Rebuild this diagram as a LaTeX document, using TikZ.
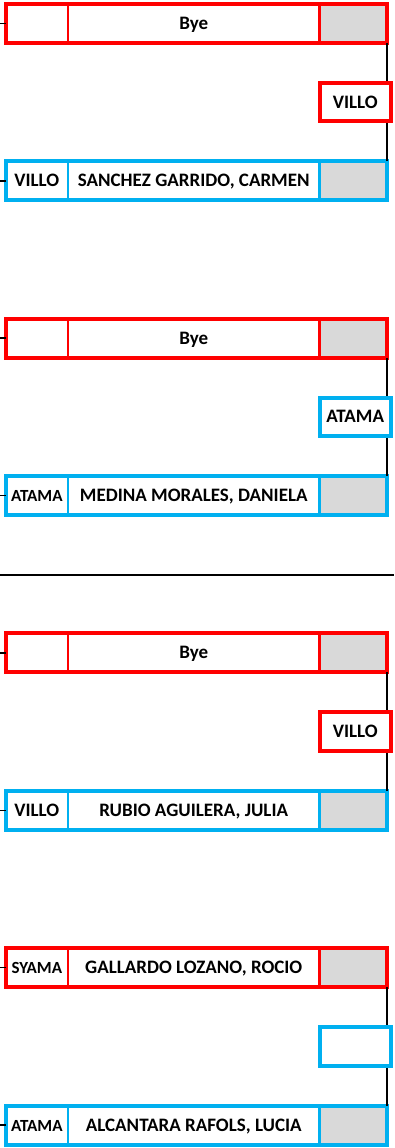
\documentclass[tikz,border=0pt]{standalone}
\usepackage{fontspec}
\setmainfont{Carlito}
\usetikzlibrary{positioning}
\definecolor{drawred}{HTML}{FF0000}
\definecolor{drawblue}{HTML}{00B0F0}
\definecolor{seedgray}{HTML}{D9D9D9}
\newcommand{\smallclub}[1]{{\fontsize{17}{20}\selectfont #1}}
% one row of the draw: club | player | seed
\newcommand{\playerrow}[5]{%
  \node[cell,draw=#3,minimum width=62.3pt,anchor=north west] (#1c) at (5.7,#2) {#4};
  \node[cell,draw=#3,minimum width=251.5pt,right=0pt of #1c] (#1p) {#5};
  \node[cell,draw=#3,fill=seedgray,minimum width=67.7pt,right=0pt of #1p] (#1s) {};
  \draw[#3,line width=4pt] (#1c.north west) rectangle (#1s.south east);
  \draw[tick] (#1c.west) -- (#1c.west -| edge);
}

\begin{document}
\begin{tikzpicture}[x=1pt,y=-1pt,
    cell/.style={rectangle,inner sep=0pt,outer sep=0pt,line width=2.6pt,
      minimum height=39pt,text height=12pt,text depth=0pt,
      font=\bfseries\fontsize{19}{22}\selectfont},
    winner/.style={cell,fill=white,line width=4pt,minimum width=71.5pt,
      minimum height=38.5pt,anchor=north west},
    tick/.style={line width=1.5pt},
    link/.style={line width=2.3pt}]
  \useasboundingbox (0,0) rectangle (394,1148);
  \coordinate (edge) at (0,0);

  % first pair
  \playerrow{a}{3.8}{drawred}{}{Bye}
  \playerrow{b}{161.3}{drawblue}{VILLO}{SANCHEZ GARRIDO, CARMEN}
  \draw[link] (as.south east) -- (bs.north east);
  \node[winner,draw=drawred] (w1) at (319.5,82.8) {VILLO};

  % second pair
  \playerrow{d}{318.6}{drawred}{}{Bye}
  \playerrow{e}{476.1}{drawblue}{\smallclub{ATAMA}}{MEDINA MORALES, DANIELA}
  \draw[link] (ds.south east) -- (es.north east);
  \node[winner,draw=drawblue] (w2) at (319.5,397.6) {ATAMA};

  % separator
  \coordinate (sepl) at (0,575);
  \coordinate (sepr) at (394,575);
  \draw[line width=1.8pt] (sepl) -- (sepr);

  % third pair
  \playerrow{g}{633.4}{drawred}{}{Bye}
  \playerrow{h}{790.9}{drawblue}{VILLO}{RUBIO AGUILERA, JULIA}
  \draw[link] (gs.south east) -- (hs.north east);
  \node[winner,draw=drawred] (w3) at (319.5,712.4) {VILLO};

  % fourth pair
  \playerrow{k}{948.2}{drawred}{\smallclub{SYAMA}}{GALLARDO LOZANO, ROCIO}
  \playerrow{m}{1105.7}{drawblue}{\smallclub{ATAMA}}{ALCANTARA RAFOLS, LUCIA}
  \draw[link] (ks.south east) -- (ms.north east);
  \node[winner,draw=drawblue] (w4) at (319.5,1027.2) {};
\end{tikzpicture}
\end{document}
